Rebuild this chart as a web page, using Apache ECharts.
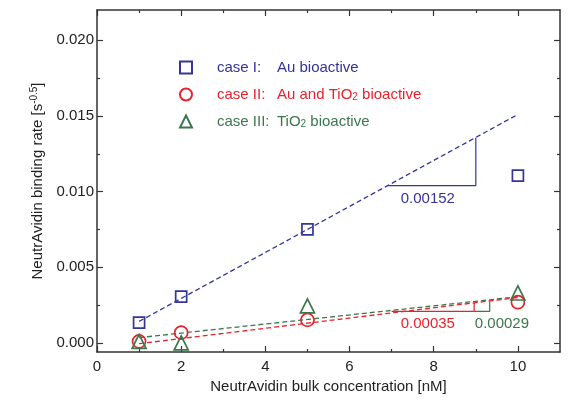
<!DOCTYPE html>
<html>
<head>
<meta charset="utf-8">
<script src="https://cdn.jsdelivr.net/npm/echarts@6/dist/echarts.min.js"></script>
<style>
html,body{margin:0;padding:0;background:#fff;}
#chart{width:572px;height:400px;}
</style>
</head>
<body>
<div id="chart"></div>
<script>
// concentrations [nM]
var conc = [1, 2, 5, 10];
// binding rates [s^-0.5]
var case1 = [0.00134, 0.00306, 0.0075, 0.01106];
var case2 = [0.0001, 0.00068, 0.00152, 0.00269];
var case3 = [0.0001, 0.0, 0.00245, 0.0033];
// fitted lines (end points)
var fit1 = [[1, 0.00142], [10, 0.0151]];
var fit2 = [[1, -0.00005], [10, 0.003]];
var fit3 = [[1, 0.00035], [10, 0.00305]];
// slope triangles
var tri1 = [[6.9, 0.0104], [9, 0.0104], [9, 0.01356]];
var tri2 = [[7, 0.00208], [8.96, 0.00208], [8.96, 0.00274]];
var tri3 = [[8.96, 0.00208], [9.33, 0.00208], [9.33, 0.00274]];
var slopeText = ['0.00152', '0.00035', '0.00029'];
var slopePos = [[7.86, 0.00952], [7.86, 0.00126], [9.62, 0.00126]];
// ticks
var xMajor = [0, 2, 4, 6, 8, 10];
var xMinor = [1, 3, 5, 7, 9];
var yMajor = [0, 0.005, 0.01, 0.015, 0.02];
var yMinor = [0.0025, 0.0075, 0.0125, 0.0175];

var BLUE = '#34349a', RED = '#e8222a', GREEN = '#3a774c', AX = '#333';
var FONT = 'Liberation Sans, Arial, sans-serif';

function pairs(xs, ys) {
    return xs.map(function (x, i) { return [x, ys[i]]; });
}
function xAx(pos, vals, len, main) {
    return {
        type: 'value', position: pos, min: 0, max: 11,
        axisLine: {show: main, onZero: false, lineStyle: {color: AX, width: 1.5}},
        axisTick: {show: true, inside: true, length: len, customValues: vals, lineStyle: {color: AX, width: 1.2}},
        axisLabel: {show: main && pos == 'bottom', customValues: vals, fontSize: 15, color: '#222', fontFamily: FONT, margin: 7},
        splitLine: {show: false}
    };
}
function yAx(pos, vals, len, main) {
    return {
        type: 'value', position: pos, min: -0.0006, max: 0.022,
        axisLine: {show: main, onZero: false, lineStyle: {color: AX, width: 1.5}},
        axisTick: {show: true, inside: true, length: len, customValues: vals, lineStyle: {color: AX, width: 1.2}},
        axisLabel: {show: main && pos == 'left', customValues: vals, fontSize: 15, color: '#222', fontFamily: FONT, margin: 3,
            formatter: function (v) { return v.toFixed(3); }},
        splitLine: {show: false}
    };
}

var xAxes = [xAx('bottom', xMajor, 6, true), xAx('bottom', xMinor, 3, false), xAx('top', xMajor, 6, true), xAx('top', xMinor, 3, false)];
xAxes[0].name = 'NeutrAvidin bulk concentration [nM]';
xAxes[0].nameLocation = 'middle';
xAxes[0].nameGap = 27;
xAxes[0].nameTextStyle = {fontSize: 15, color: '#222', fontFamily: FONT};

var yAxes = [yAx('left', yMajor, 6, true), yAx('left', yMinor, 3, false), yAx('right', yMajor, 6, true), yAx('right', yMinor, 3, false)];
yAxes[0].name = '{t|NeutrAvidin binding rate [s}{sup|-0.5}{t|]}';
yAxes[0].nameLocation = 'middle';
yAxes[0].nameGap = 42;
yAxes[0].nameTextStyle = {
    fontSize: 15, color: '#222', fontFamily: FONT,
    rich: {
        t: {fontSize: 15, fontFamily: FONT, color: '#222', lineHeight: 18},
        sup: {fontSize: 10, fontFamily: FONT, color: '#222', verticalAlign: 'top', lineHeight: 10}
    }
};

function fitLine(data, color) {
    return {type: 'line', data: data, symbol: 'none', silent: true,
        lineStyle: {color: color, width: 1.3, type: [5, 3]}, z: 1};
}
function triLine(data, color) {
    return {type: 'line', data: data, symbol: 'none', silent: true,
        lineStyle: {color: color, width: 1.2}, z: 1};
}
function pts(name, sym, size, ys, color) {
    return {name: name, type: 'scatter', symbol: sym, symbolSize: size, data: pairs(conc, ys),
        itemStyle: {color: 'rgba(255,255,255,0)', borderColor: color, borderWidth: 1.7, opacity: 1}, z: 3};
}

var legendRich = {
    c: {width: 60, padding: [0, 0, 0, 20], fontSize: 15, fontFamily: FONT},
    d: {fontSize: 15, fontFamily: FONT},
    s: {fontSize: 10, fontFamily: FONT, verticalAlign: 'bottom', lineHeight: 10}
};
var legendText = {
    'case I': '{c|case I:}{d|Au bioactive}',
    'case II': '{c|case II:}{d|Au and TiO}{s|2}{d| bioactive}',
    'case III': '{c|case III:}{d|TiO}{s|2}{d| bioactive}'
};

var myChart = echarts.init(document.getElementById('chart'));
var option = {
    animation: false,
    grid: {left: 97, right: 12, top: 10, bottom: 48},
    xAxis: xAxes,
    yAxis: yAxes,
    legend: {
        orient: 'vertical', left: 174, top: 55, itemGap: 12,
        itemWidth: 12, itemHeight: 12,
        data: [
            {name: 'case I', textStyle: {color: BLUE}},
            {name: 'case II', textStyle: {color: RED}},
            {name: 'case III', textStyle: {color: GREEN}}
        ],
        formatter: function (n) { return legendText[n]; },
        textStyle: {fontSize: 15, fontFamily: FONT, rich: legendRich}
    },
    series: [
        fitLine(fit1, BLUE), fitLine(fit3, GREEN), fitLine(fit2, RED),
        triLine(tri1, BLUE), triLine(tri3, GREEN), triLine(tri2, RED),
        {
            type: 'scatter', symbolSize: 0, silent: true, z: 2,
            itemStyle: {opacity: 1},
            data: slopePos.map(function (p, i) {
                return {value: p, name: slopeText[i],
                    label: {color: [BLUE, RED, GREEN][i]}};
            }),
            label: {show: true, position: 'inside', fontSize: 15, fontFamily: FONT,
                formatter: function (p) { return p.name; }}
        },
        pts('case I', 'rect', 11, case1, BLUE),
        pts('case II', 'circle', 13, case2, RED),
        pts('case III', 'triangle', 14, case3, GREEN)
    ]
};
myChart.setOption(option);
</script>
</body>
</html>
